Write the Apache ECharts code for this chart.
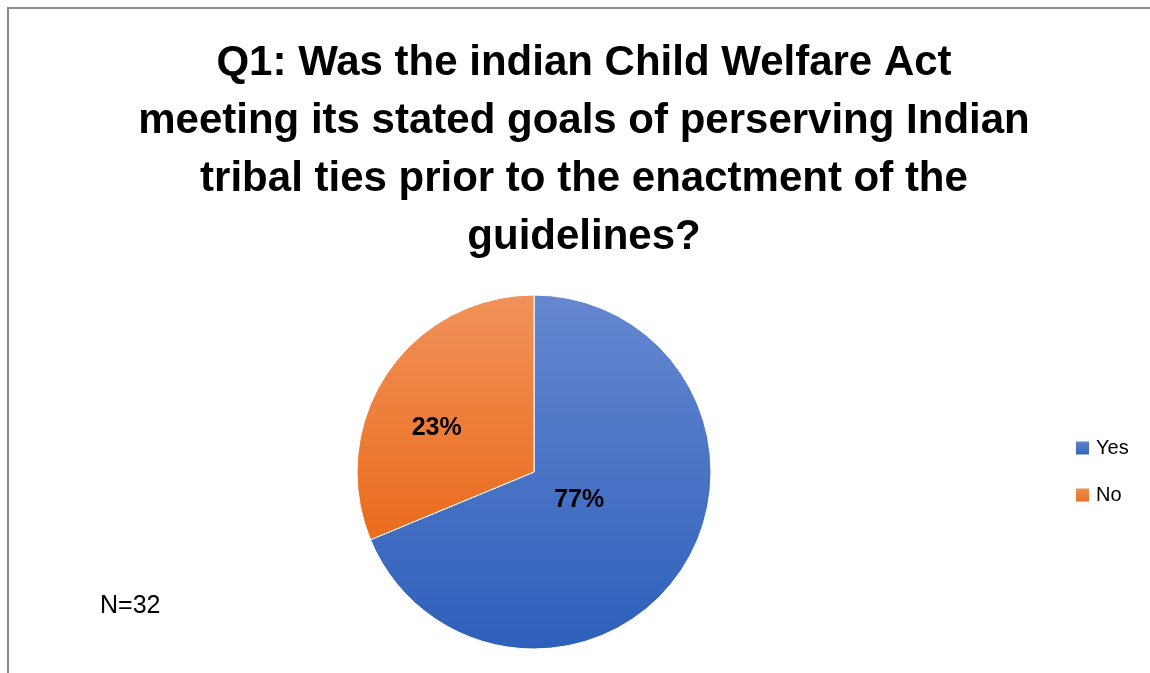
<!DOCTYPE html>
<html>
<head>
<meta charset="utf-8">
<script src="https://cdn.jsdelivr.net/npm/echarts@6/dist/echarts.min.js"></script>
<style>
html,body{margin:0;padding:0;background:#fff;}
#frame{position:absolute;left:7px;top:7px;width:1160px;height:680px;border-left:2px solid #8c8c8c;border-top:2px solid #8c8c8c;box-sizing:border-box;}
#chart{position:absolute;left:0;top:0;width:1150px;height:673px;}
</style>
</head>
<body>
<div id="frame"></div>
<div id="chart"></div>
<script>
const titleText = 'Q1: Was the indian Child Welfare Act\nmeeting its stated goals of perserving Indian\ntribal ties prior to the enactment of the\nguidelines?';
const categories = ['Yes', 'No'];
const counts = [22, 10];
const percentLabels = ['77%', '23%'];
const noteText = 'N=32';

const topColors = ['#6687d0', '#f1925a'];
const bottomColors = ['#2d60bb', '#ea6b1c'];

const chart = echarts.init(document.getElementById('chart'), null, {renderer: 'canvas'});

const R = 177;
const center = [534, 472];

const mainData = categories.map((c, i) => ({
  name: c,
  value: counts[i],
  itemStyle: {
    color: new echarts.graphic.LinearGradient(0, 0, 0, 1, [
      {offset: 0, color: topColors[i]},
      {offset: 1, color: bottomColors[i]}
    ])
  }
}));

function overlay(showIndex, radius, offset) {
  return {
    type: 'pie',
    silent: true,
    center: center,
    radius: [0, radius],
    startAngle: 90,
    clockwise: true,
    animation: false,
    legendHoverLink: false,
    itemStyle: {color: 'rgba(0,0,0,0)', borderWidth: 0},
    labelLine: {show: false},
    data: categories.map((c, i) => ({
      name: c,
      value: counts[i],
      label: {
        show: i === showIndex,
        position: 'inside',
        offset: offset,
        formatter: percentLabels[i],
        fontFamily: 'Liberation Sans',
        fontWeight: 'bold',
        fontSize: 25,
        color: '#000'
      }
    }))
  };
}

chart.setOption({
  animation: false,
  backgroundColor: 'transparent',
  title: {
    text: titleText,
    left: 584,
    top: 34,
    padding: 0,
    textAlign: 'center',
    textStyle: {
      fontFamily: 'Liberation Sans',
      fontWeight: 'bold',
      fontSize: 42,
      lineHeight: 58,
      color: '#000'
    }
  },
  legend: {
    orient: 'vertical',
    left: 1074,
    top: 438,
    itemWidth: 15,
    itemHeight: 15,
    itemGap: 27,
    padding: 0,
    icon: 'rect',
    textStyle: {fontFamily: 'Liberation Sans', fontSize: 20, color: '#000', padding: [0, 0, 0, 1]},
    data: categories,
    selectedMode: false
  },
  graphic: [{
    type: 'text',
    left: 100,
    top: 594,
    style: {text: noteText, fontFamily: 'Liberation Sans', fontSize: 25, fill: '#000'}
  }],
  series: [
    {
      type: 'pie',
      name: 'main',
      center: center,
      radius: [0, R],
      startAngle: 90,
      clockwise: true,
      silent: true,
      itemStyle: {borderColor: '#ffffff', borderWidth: 1},
      label: {show: false},
      labelLine: {show: false},
      data: mainData
    },
    overlay(0, R * 0.58, [0, -2]),
    overlay(1, R * 1.22, [-5, 18])
  ]
});
</script>
</body>
</html>
